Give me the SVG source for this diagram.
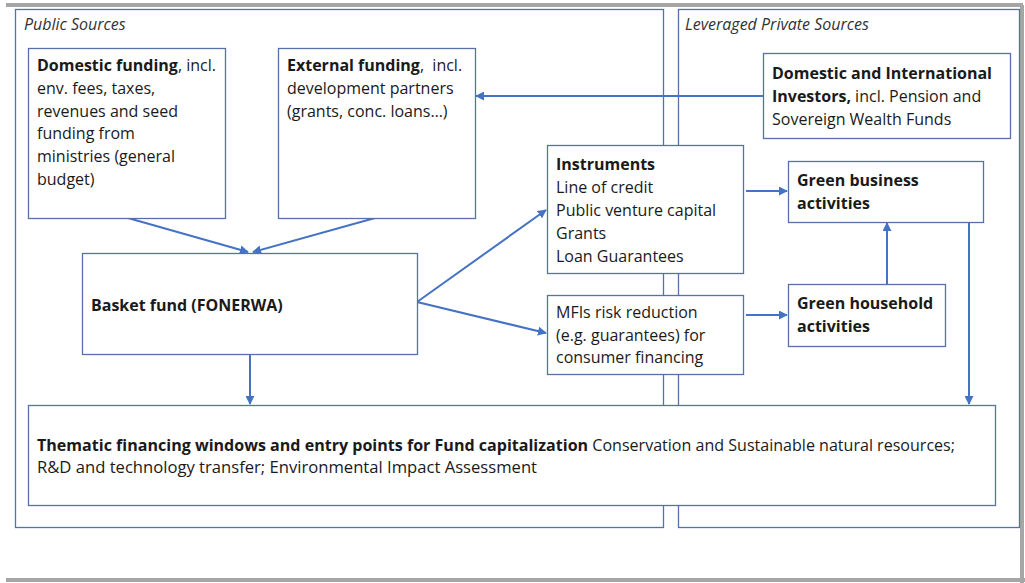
<svg xmlns="http://www.w3.org/2000/svg" width="1025" height="583" viewBox="0 0 1025 583">
<defs>
<style>
.bg{fill:#fff}
.frame{fill:none;stroke:#a6a6a6;stroke-width:4}
.panel{fill:none;stroke:#5670a8;stroke-width:1.3}
.box{fill:#fff;stroke:#5670a8;stroke-width:1.3}
.t{font-family:"Open Sans","Liberation Sans",Arial,sans-serif;font-size:16px;fill:#1a1a1a}
.b{font-weight:bold}
.i{font-style:italic;fill:#333}
.c{fill:none;stroke:#4472c4;stroke-width:2}
</style>
<marker id="ah" viewBox="0 0 10 10" refX="9" refY="5" markerWidth="4.5" markerHeight="4.5" orient="auto" markerUnits="strokeWidth">
<path d="M0,0 L10,5 L0,10 z" fill="#4472c4"/>
</marker>
</defs>
<rect class="bg" x="0" y="0" width="1025" height="583"/>
<g id="frame">
<line class="frame" x1="6" y1="5" x2="1023" y2="5"/>
<line class="frame" x1="1022" y1="5" x2="1022" y2="583"/>
<line class="frame" x1="6" y1="580" x2="1025" y2="580"/>
</g>
<g id="public-panel">
<rect class="panel" x="15.5" y="9.5" width="648" height="518"/>
<text class="t i" x="24" y="30">Public Sources</text>
</g>
<g id="private-panel">
<rect class="panel" x="678.5" y="9.5" width="341" height="518"/>
<text class="t i" x="685" y="30">Leveraged Private Sources</text>
</g>
<g id="connectors">
<line class="c" x1="128" y1="218" x2="248" y2="252" marker-end="url(#ah)"/>
<line class="c" x1="375" y1="218" x2="253" y2="252" marker-end="url(#ah)"/>
<line class="c" x1="763" y1="96" x2="476" y2="96" marker-end="url(#ah)"/>
<line class="c" x1="417" y1="302" x2="546" y2="210" marker-end="url(#ah)"/>
<line class="c" x1="417" y1="302" x2="546" y2="333" marker-end="url(#ah)"/>
<line class="c" x1="250" y1="354" x2="250" y2="404" marker-end="url(#ah)"/>
<line class="c" x1="746" y1="191" x2="787" y2="191" marker-end="url(#ah)"/>
<line class="c" x1="746" y1="315" x2="787" y2="315" marker-end="url(#ah)"/>
<line class="c" x1="887" y1="284" x2="887" y2="223" marker-end="url(#ah)"/>
<line class="c" x1="969" y1="222" x2="969" y2="404" marker-end="url(#ah)"/>
</g>
<g id="domestic-funding">
<rect class="box" x="28.5" y="48.5" width="197" height="170"/>
<text class="t" x="37" y="71"><tspan class="b">Domestic funding</tspan>, incl.</text>
<text class="t" x="37" y="94">env. fees, taxes,</text>
<text class="t" x="37" y="117">revenues and seed</text>
<text class="t" x="37" y="139">funding from</text>
<text class="t" x="37" y="162">ministries (general</text>
<text class="t" x="37" y="185">budget)</text>
</g>
<g id="external-funding">
<rect class="box" x="278.5" y="48.5" width="197" height="170"/>
<text class="t" x="287" y="71"><tspan class="b">External funding</tspan>,&#160; incl.</text>
<text class="t" x="287" y="94">development partners</text>
<text class="t" x="287" y="117">(grants, conc. loans…)</text>
</g>
<g id="investors">
<rect class="box" x="763.5" y="53.5" width="247" height="85"/>
<text class="t" x="772" y="79"><tspan class="b">Domestic and International</tspan></text>
<text class="t" x="772" y="102"><tspan class="b">Investors,</tspan> incl. Pension and</text>
<text class="t" x="772" y="125">Sovereign Wealth Funds</text>
</g>
<g id="instruments">
<rect class="box" x="547.5" y="145.5" width="196" height="128"/>
<text class="t b" x="556" y="170">Instruments</text>
<text class="t" x="556" y="193">Line of credit</text>
<text class="t" x="556" y="216">Public venture capital</text>
<text class="t" x="556" y="239">Grants</text>
<text class="t" x="556" y="262">Loan Guarantees</text>
</g>
<g id="green-business">
<rect class="box" x="788.5" y="161.5" width="195" height="61"/>
<text class="t b" x="797" y="186">Green business</text>
<text class="t b" x="797" y="209">activities</text>
</g>
<g id="basket-fund">
<rect class="box" x="82.5" y="253.5" width="335" height="101"/>
<text class="t b" x="91" y="311">Basket fund (FONERWA)</text>
</g>
<g id="mfis">
<rect class="box" x="547.5" y="295.5" width="196" height="79"/>
<text class="t" x="556" y="318">MFIs risk reduction</text>
<text class="t" x="556" y="341">(e.g. guarantees) for</text>
<text class="t" x="556" y="363">consumer financing</text>
</g>
<g id="green-household">
<rect class="box" x="788.5" y="284.5" width="157" height="62"/>
<text class="t b" x="797" y="309">Green household</text>
<text class="t b" x="797" y="332">activities</text>
</g>
<g id="thematic">
<rect class="box" x="28.5" y="405.5" width="967" height="100"/>
<text class="t" x="37" y="451" textLength="918" lengthAdjust="spacingAndGlyphs"><tspan class="b">Thematic financing windows and entry points for Fund capitalization</tspan> Conservation and Sustainable natural resources;</text>
<text class="t" x="37" y="473" textLength="500" lengthAdjust="spacingAndGlyphs">R&amp;D and technology transfer; Environmental Impact Assessment</text>
</g>
</svg>
